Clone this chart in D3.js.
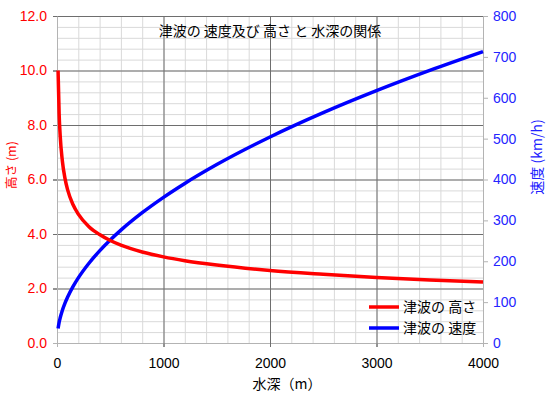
<!DOCTYPE html>
<html>
<head>
<meta charset="utf-8">
<script src="https://cdn.jsdelivr.net/npm/d3@7"></script>
<style>
  body { margin: 0; background: #fff; }
  svg { display: block; }
  text { font-family: 'Liberation Sans', Arial, sans-serif; font-size: 14px; }
  .jp { font-family: 'Noto Sans CJK JP', sans-serif; }
</style>
</head>
<body>
<script>
// depth (m) sample points
const depths = [10, 20, 30, 50, 75, 100, 150, 200, 300, 400, 500, 600, 800,
  1000, 1200, 1500, 2000, 2500, 3000, 3500, 4000]
// wave height (m), left axis
const heights = [10.0, 8.41, 7.60, 6.69, 6.04, 5.62, 5.08, 4.73, 4.27, 3.98, 3.76, 3.59, 3.34,
  3.16, 3.02, 2.86, 2.66, 2.52, 2.40, 2.31, 2.24]
// wave speed (km/h), right axis
const speeds = [35.6, 50.4, 61.7, 79.7, 97.6, 112.7, 138.0, 159.4, 195.2, 225.4, 252.0, 276.1, 318.8,
  356.4, 390.4, 436.5, 504.0, 563.5, 617.3, 666.8, 712.8]

const xTicks = [0, 1000, 2000, 3000, 4000]
const xMinor = d3.range(0, 4001, 200)
const hTicks = [0, 2, 4, 6, 8, 10, 12]
const hMinor = d3.range(0, 12.01, 0.4)
const vTicks = [0, 100, 200, 300, 400, 500, 600, 700, 800]

const title = '津波の 速度及び 高さ と 水深の関係'
const xTitle = '水深（m）'
const hTitle = '高さ (m)'
const vTitle = '速度 (km/h)'
const seriesNames = ['津波の 高さ', '津波の 速度']

const W = 549, H = 395
const plot = { left: 57, right: 483, top: 16, bottom: 343 }

const RED = '#ff0000'
const BLUE = '#0000ff'
const MINOR = '#d9d9d9'
const MAJOR = '#6e6e6e'
const AXIS = '#b3b3b3'

const svg = d3.select('body').append('svg')
  .attr('width', W)
  .attr('height', H)

svg.append('rect').attr('width', W).attr('height', H).attr('fill', '#fff')

const x = d3.scaleLinear().domain([0, 4000]).range([plot.left, plot.right])
const yH = d3.scaleLinear().domain([0, 12]).range([plot.bottom, plot.top])
const yV = d3.scaleLinear().domain([0, 800]).range([plot.bottom, plot.top])

const plotW = plot.right - plot.left
const plotH = plot.bottom - plot.top

// grids: minor first, major on top
const grid = (g, axis, color) => g.call(axis)
  .call(s => s.select('.domain').remove())
  .call(s => s.selectAll('.tick line').attr('stroke', color).attr('stroke-width', 1))
  .call(s => s.selectAll('.tick text').remove())

svg.append('g')
  .attr('transform', `translate(0,${plot.bottom})`)
  .call(g => grid(g, d3.axisBottom(x).tickValues(xMinor).tickSize(-plotH), MINOR))
svg.append('g')
  .attr('transform', `translate(${plot.left},0)`)
  .call(g => grid(g, d3.axisLeft(yH).tickValues(hMinor).tickSize(-plotW), MINOR))

svg.append('g')
  .attr('transform', `translate(0,${plot.bottom + 4})`)
  .call(g => grid(g, d3.axisBottom(x).tickValues(xTicks).tickSize(-(plotH + 4)), MAJOR))
svg.append('g')
  .attr('transform', `translate(${plot.left - 4},0)`)
  .call(g => grid(g, d3.axisLeft(yH).tickValues(hTicks).tickSize(-(plotW + 4)), MAJOR))

// axes
const styleAxis = (g, color) => g
  .call(s => s.select('.domain').attr('stroke', AXIS))
  .call(s => s.selectAll('.tick line').attr('stroke', AXIS))
  .call(s => s.selectAll('.tick text')
    .attr('fill', color)
    .style('font-family', "'Liberation Sans', Arial, sans-serif")
    .style('font-size', '14px'))

svg.append('g')
  .attr('transform', `translate(0,${plot.bottom})`)
  .call(d3.axisBottom(x).tickValues(xTicks).tickSize(4).tickSizeOuter(0).tickPadding(11).tickFormat(d3.format('d')))
  .call(g => styleAxis(g, '#000'))
  .call(g => g.selectAll('.tick line').filter(d => d !== 0 && d !== 4000).attr('stroke', MAJOR))

svg.append('g')
  .attr('transform', `translate(${plot.left},0)`)
  .call(d3.axisLeft(yH).tickValues(hTicks).tickSize(4).tickSizeOuter(0).tickPadding(6).tickFormat(d3.format('.1f')))
  .call(g => styleAxis(g, RED))
  .call(g => g.selectAll('.tick line').filter(d => d !== 0).attr('stroke', MAJOR))

svg.append('g')
  .attr('transform', `translate(${plot.right},0)`)
  .call(d3.axisRight(yV).tickValues(vTicks).tickSize(5).tickSizeOuter(0).tickPadding(5).tickFormat(d3.format('d')))
  .call(g => styleAxis(g, '#2525ff'))

// axis titles
svg.append('text')
  .attr('class', 'jp')
  .attr('x', 287)
  .attr('y', 389)
  .attr('text-anchor', 'middle')
  .attr('fill', '#000')
  .text(xTitle)

svg.append('text')
  .attr('class', 'jp')
  .attr('transform', `translate(16,165) rotate(-90)`)
  .attr('text-anchor', 'middle')
  .attr('fill', RED)
  .style('font-size', '12.5px')
  .text(hTitle)

svg.append('text')
  .attr('class', 'jp')
  .attr('transform', `translate(542,157) rotate(-90)`)
  .attr('text-anchor', 'middle')
  .attr('fill', '#2020ff')
  .text(vTitle)

// chart title sits inside the plot, over the grid
svg.append('text')
  .attr('class', 'jp')
  .attr('x', (plot.left + plot.right) / 2)
  .attr('y', 36)
  .attr('text-anchor', 'middle')
  .attr('fill', '#000')
  .text(title)

// series
const rows = depths.map((d, i) => ({ depth: d, h: heights[i], v: speeds[i] }))

const lineH = d3.line().x(d => x(d.depth)).y(d => yH(d.h)).curve(d3.curveMonotoneX)
const lineV = d3.line().x(d => x(d.depth)).y(d => yV(d.v)).curve(d3.curveMonotoneX)

svg.append('path')
  .datum(rows)
  .attr('d', lineV)
  .attr('fill', 'none')
  .attr('stroke', BLUE)
  .attr('stroke-width', 3.5)

svg.append('path')
  .datum(rows)
  .attr('d', lineH)
  .attr('fill', 'none')
  .attr('stroke', RED)
  .attr('stroke-width', 3.5)

// legend
const legend = svg.append('g').attr('transform', 'translate(369,307)')
const items = legend.selectAll('g')
  .data(seriesNames.map((name, i) => ({ name, color: [RED, BLUE][i] })))
  .join('g')
  .attr('transform', (d, i) => `translate(0,${i * 21})`)

items.append('line')
  .attr('x1', 0).attr('x2', 30)
  .attr('stroke', d => d.color)
  .attr('stroke-width', 3.5)

items.append('text')
  .attr('class', 'jp')
  .attr('x', 34)
  .attr('y', 5)
  .attr('fill', '#000')
  .text(d => d.name)
</script>
</body>
</html>
